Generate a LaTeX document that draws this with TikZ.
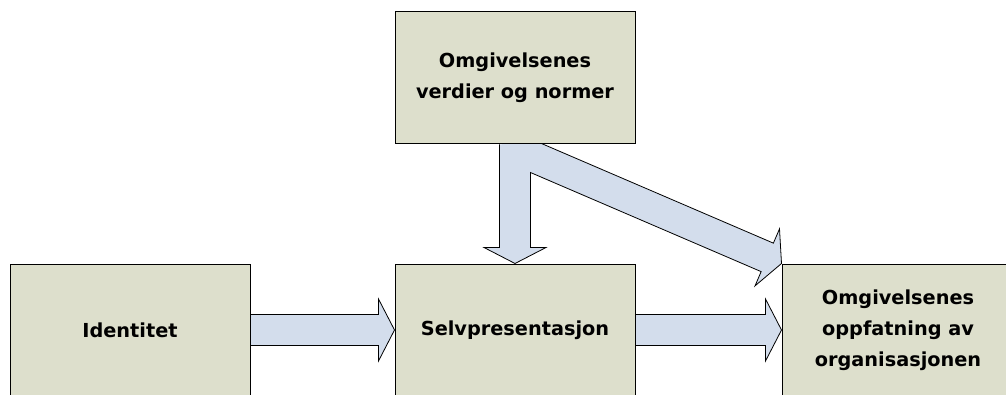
\documentclass[tikz,border=0pt]{standalone}
\usepackage{fontspec}
\setmainfont{DejaVu Sans}
\usetikzlibrary{positioning,calc,backgrounds}
\definecolor{boxfill}{RGB}{221,223,204}
\definecolor{arrowfill}{RGB}{211,221,236}

\begin{document}
\begin{tikzpicture}[
    x=1pt, y=1pt,
    box/.style={rectangle, draw, line width=1pt, fill=boxfill, minimum width=240pt, minimum height=132pt, align=center, font=\fontsize{19.3}{31}\selectfont\bfseries},
    blockarrow/.style={draw, line width=0.8pt, fill=arrowfill}
  ]
    \useasboundingbox (0,0) rectangle (1006,394);
    \node[box] (ident) at (130,64) {Identitet};
    \node[box, right=144pt of ident] (selv) {Selvpresentasjon};
    \node[box, minimum width=232pt, right=146pt of selv] (omgoppf) {Omgivelsenes\\oppfatning av\\organisasjonen};
    \node[box, above=119pt of selv] (omgverdi) {Omgivelsenes\\verdier og normer};

    % slanted arrow, pointing at the corner of the right box
    \begin{scope}[shift={(omgoppf.north west)}, rotate=-23.25]
      \coordinate (diagtip) at (0,0);
      \coordinate (diagbarbup) at (-15.5,31);
      \coordinate (diagheadup) at (-15.5,15.5);
      \coordinate (diagheadlow) at (-15.5,-15.5);
      \coordinate (diagbarblow) at (-15.5,-31);
      \coordinate (diagtailup) at (-275,15.5);
      \coordinate (diagtaillow) at (-275,-15.5);
    \end{scope}
    \coordinate (downtopl) at ($(omgverdi.south)+(-15.5,0)$);
    \coordinate (downtopr) at ($(omgverdi.south)+(15.5,0)$);
    \coordinate (downheadr) at ($(selv.north)+(15.5,16)$);
    \coordinate (diagjoin) at (intersection cs: first line={(diagtaillow)--(diagheadlow)}, second line={(downtopr)--(downheadr)});

    \begin{scope}[on background layer]
      \draw[blockarrow] ($(ident.east)+(0,15.5)$) -- ($(selv.west)+(-16,15.5)$) -- ++(0,15.5) -- (selv.west) -- ++(-16,-31) -- ++(0,15.5) -- ($(ident.east)+(0,-15.5)$);
      \draw[blockarrow] ($(selv.east)+(0,15.5)$) -- ($(omgoppf.west)+(-16,15.5)$) -- ++(0,15.5) -- (omgoppf.west) -- ++(-16,-31) -- ++(0,15.5) -- ($(selv.east)+(0,-15.5)$);
      \draw[blockarrow] (downtopl) -- ($(selv.north)+(-15.5,16)$) -- ++(-15.5,0) -- (selv.north) -- ++(31,16) -- ++(-15.5,0) -- (diagjoin) -- (diagheadlow) -- (diagbarblow) -- (diagtip) -- (diagbarbup) -- (diagheadup) -- (diagtailup);
    \end{scope}
  \end{tikzpicture}
\end{document}
